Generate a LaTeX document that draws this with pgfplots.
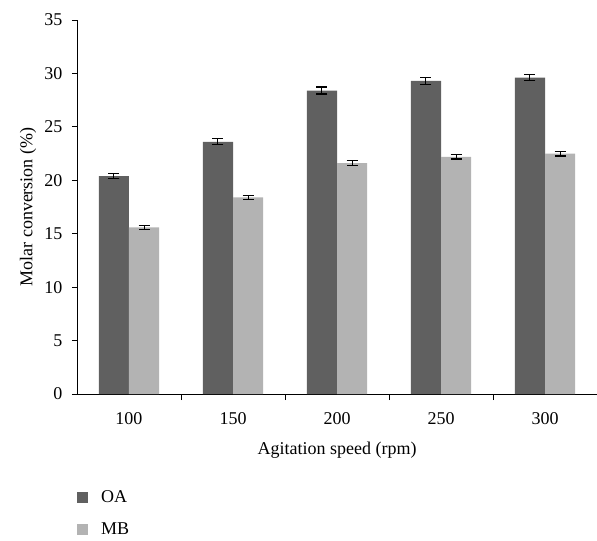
\documentclass[border=0pt]{standalone}
\usepackage{pgfplots}
\pgfplotsset{compat=1.18}
\usepackage{fontspec}
\setmainfont{Liberation Serif}
\definecolor{oa}{HTML}{606060}
\definecolor{mb}{HTML}{B3B3B3}
\begin{document}
\begin{tikzpicture}
\useasboundingbox (-77bp,-147bp) rectangle (520bp,20bp+374bp);
\begin{axis}[
  at={(0,0)}, anchor=south west,
  scale only axis, width=520bp, height=374bp,
  xmin=-0.5, xmax=4.5, ymin=0, ymax=35,
  axis lines*=left, axis line style={black, line width=0.8pt},
  ytick={0,5,...,35},
  xtick={0,1,2,3,4}, xticklabels={100,150,200,250,300},
  major x tick style={draw=none},
  minor xtick={0.5,1.5,2.5,3.5},
  minor x tick style={black, line width=0.8pt},
  tick align=outside,
  major tick length=5bp, minor tick length=6bp,
  y tick style={black, line width=0.8pt},
  tick label style={font=\fontsize{18bp}{21bp}\selectfont},
  label style={font=\fontsize{18bp}{21bp}\selectfont},
  /pgf/number format/assume math mode=true,
  xlabel={Agitation speed (rpm)},
  ylabel={Molar conversion (\%)},
  ylabel style={at={(axis description cs:-0.094,0.5)}, anchor=center},
  yticklabel style={xshift=-6bp},
  xticklabel style={yshift=-10bp},
  xlabel style={yshift=-11bp},
  ybar, bar width=0.29,
  legend style={at={(axis description cs:-0.006,-0.247)}, anchor=north west, draw=none, fill=none,
    font=\fontsize{18bp}{21bp}\selectfont, row sep=15bp, cells={anchor=west}},
  legend cell align=left,
  error bars/y dir=both, error bars/y explicit,
  error bars/error bar style={black, line width=0.9pt},
  error bars/error mark=|,
  error bars/error mark options={black, mark size=5.5bp, line width=1.2pt},
]
\addplot[fill=oa, draw=none, bar shift=-0.145,
  legend image code/.code={\fill[oa] (0bp,-5.5bp) rectangle (11bp,5.5bp);}] coordinates {
  (0,20.4) +- (0,0.25)
  (1,23.6) +- (0,0.28)
  (2,28.4) +- (0,0.33)
  (3,29.3) +- (0,0.3)
  (4,29.6) +- (0,0.28)
};
\addplot[fill=mb, draw=none, bar shift=0.145,
  legend image code/.code={\fill[mb] (0bp,-5.5bp) rectangle (11bp,5.5bp);}] coordinates {
  (0,15.6) +- (0,0.18)
  (1,18.4) +- (0,0.2)
  (2,21.6) +- (0,0.22)
  (3,22.2) +- (0,0.2)
  (4,22.5) +- (0,0.22)
};
\legend{\hspace*{11bp}OA,\hspace*{11bp}MB}
\end{axis}
\end{tikzpicture}
\end{document}
